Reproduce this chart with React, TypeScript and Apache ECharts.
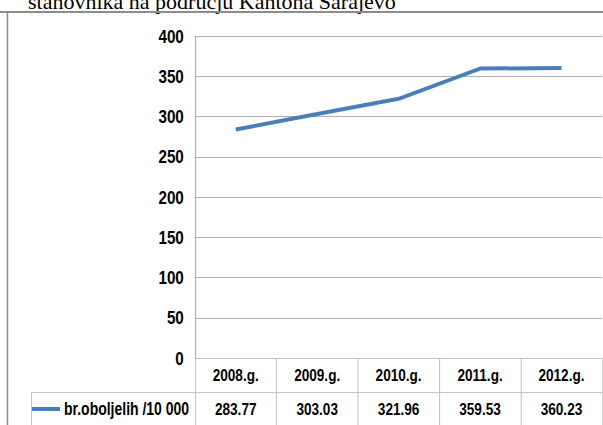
import React, { useEffect, useRef } from "react";
import * as echarts from "echarts";

const categories = ["2008.g.", "2009.g.", "2010.g.", "2011.g.", "2012.g."];
const seriesName = "br.oboljelih /10 000";
const values = [283.77, 303.03, 321.96, 359.53, 360.23];
const yTicks = { min: 0, max: 400, interval: 50 };
const titleText = "stanovnika na području Kantona Sarajevo";

// The reference uses a narrow (condensed) face; emulate it by drawing the
// chart wider and squeezing it horizontally with a CSS transform.
const S = 0.8;
const SANS = "'Liberation Sans', Arial, sans-serif";

export default function App() {
  const ref = useRef<HTMLDivElement>(null);
  useEffect(() => {
    if (!ref.current) return;
    const chart = echarts.init(ref.current, undefined, { renderer: "svg" });
    const W = 603 / S;
    const H = 425;
    const gridLeft = 195 / S;
    const gridRight = 1 / S;
    const gridTop = 36;
    const gridBottom = 67;
    const zeroY = H - gridBottom;
    const rowH = 34;
    const tableColor = "#bfbfbf";
    chart.setOption({
      animation: false,
      backgroundColor: "#ffffff",
      grid: { left: gridLeft, right: gridRight, top: gridTop, bottom: gridBottom, containLabel: false },
      legend: {
        left: 32 / S,
        top: 400,
        icon: "rect",
        itemWidth: 28 / S,
        itemHeight: 4,
        padding: 0,
        data: [seriesName],
        textStyle: { fontFamily: SANS, fontWeight: "bold", fontSize: 17.5, color: "#000" },
      },
      xAxis: [
        {
          type: "category",
          data: categories,
          boundaryGap: true,
          position: "bottom",
          axisLine: { show: true, lineStyle: { color: tableColor, width: 1 } },
          axisTick: { show: true, alignWithLabel: false, length: gridBottom, lineStyle: { color: tableColor, width: 1.25 } },
          axisLabel: { margin: 8, fontFamily: SANS, fontWeight: "bold", fontSize: 17, color: "#000" },
          splitLine: { show: false },
        },
        {
          type: "category",
          data: categories,
          boundaryGap: true,
          position: "bottom",
          offset: rowH,
          axisLine: { show: false },
          axisTick: { show: false },
          axisLabel: {
            margin: 8,
            fontFamily: SANS,
            fontWeight: "bold",
            fontSize: 17,
            color: "#000",
            formatter: (_v: string, i: number) => values[i].toFixed(2),
          },
          splitLine: { show: false },
        },
      ],
      yAxis: {
        type: "value",
        min: yTicks.min,
        max: yTicks.max,
        interval: yTicks.interval,
        axisLine: { show: true, lineStyle: { color: "#a6a6a6", width: 1.25 } },
        axisTick: { show: false },
        axisLabel: { margin: 14, fontFamily: SANS, fontWeight: "bold", fontSize: 19, color: "#000" },
        splitLine: { show: true, lineStyle: { color: "#a6a6a6", width: 1 } },
      },
      series: [
        {
          name: seriesName,
          type: "line",
          data: values,
          showSymbol: false,
          symbol: "none",
          lineStyle: { color: "#4a7ebb", width: 4 },
          itemStyle: { color: "#4a7ebb" },
        },
      ],
      graphic: [
        {
          type: "text",
          x: 28 / S,
          y: 1,
          scaleX: 1 / S,
          style: {
            text: titleText,
            fontFamily: "'Liberation Serif', 'Times New Roman', serif",
            fontSize: 22,
            fill: "#000",
            verticalAlign: "middle",
            align: "left",
          },
        },
        {
          type: "line",
          shape: { x1: 0, y1: 12, x2: W, y2: 12 },
          style: { stroke: "#8c8c8c", lineWidth: 2 },
        },
        {
          type: "line",
          shape: { x1: 7.5 / S, y1: 12, x2: 7.5 / S, y2: H },
          style: { stroke: "#8c8c8c", lineWidth: 1.5 / S },
        },
        {
          type: "line",
          shape: { x1: 31.5 / S, y1: zeroY + rowH + 0.5, x2: W - gridRight, y2: zeroY + rowH + 0.5 },
          style: { stroke: tableColor, lineWidth: 1 },
        },
        {
          type: "line",
          shape: { x1: 31.5 / S, y1: zeroY + rowH, x2: 31.5 / S, y2: H },
          style: { stroke: tableColor, lineWidth: 1 / S },
        },
      ],
    });
    return () => chart.dispose();
  }, []);
  return (
    <div
      ref={ref}
      style={{
        position: "fixed",
        left: 0,
        top: 0,
        width: 603 / S,
        height: 425,
        background: "#fff",
        transform: `scaleX(${S})`,
        transformOrigin: "0 0",
      }}
    />
  );
}
